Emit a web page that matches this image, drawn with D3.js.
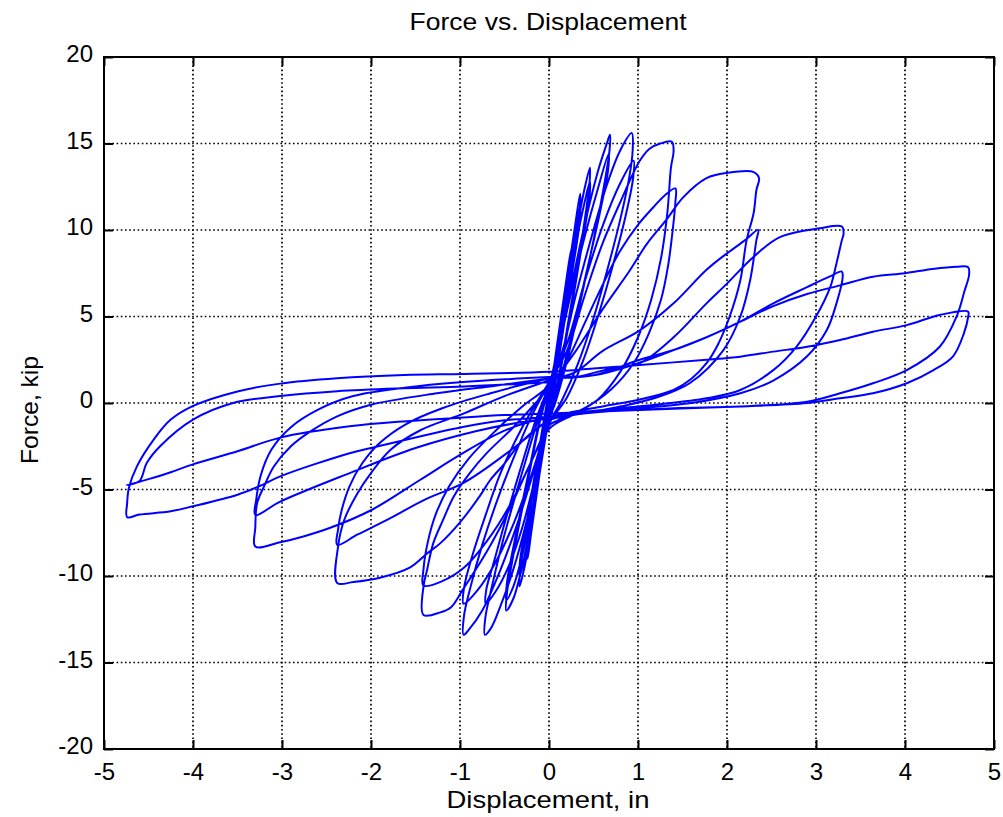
<!DOCTYPE html>
<html><head><meta charset="utf-8">
<script src="https://cdn.jsdelivr.net/npm/d3@7"></script>
<style>body{margin:0;background:#fff}svg{display:block}text{font-family:"Liberation Sans",Arial,sans-serif;fill:#000}</style>
</head><body><div id="chart"></div>
<script>
const title = "Force vs. Displacement";
const xLabel = "Displacement, in";
const yLabel = "Force, kip";
const xTicks = [-5,-4,-3,-2,-1,0,1,2,3,4,5];
const yTicks = [-20,-15,-10,-5,0,5,10,15,20];

// [displacement (in), force (kip)], cycle by cycle
const c01 = [[0,0],[0.05,1.6],[0.1,3.3],[0.095,2.7],[0.04,0.9],[0,-0.2],[-0.05,-1.7],[-0.1,-3.4],[-0.095,-2.8],[-0.04,-0.9],[0,0.2]];
const c02 = [[0.05,1.5],[0.1,3.1],[0.15,4.9],[0.145,4.1],[0.08,1.9],[0.02,0],[0,-0.3],[-0.05,-1.8],[-0.1,-3.4],[-0.15,-5.1],[-0.145,-4.3],[-0.08,-1.9],[-0.02,0],[0,0.3]];
const c03 = [[0.1,3.7],[0.2,7.3],[0.25,8.9],[0.245,8.0],[0.16,5.0],[0.06,1.3],[0,-0.4],[-0.1,-3.9],[-0.2,-7.5],[-0.24,-9.0],[-0.235,-8.0],[-0.15,-4.9],[-0.05,-1.2],[0,0.4]];
const c04 = [[0.1,3.5],[0.2,7.0],[0.3,10.5],[0.35,12.1],[0.345,11.1],[0.26,8.0],[0.13,3.4],[0.03,0],[0,-0.6],[-0.1,-3.9],[-0.2,-7.3],[-0.28,-9.6],[-0.33,-10.6],[-0.325,-9.7],[-0.23,-6.7],[-0.11,-2.9],[0,0.6]];
const c05 = [[0.1,3.2],[0.2,6.6],[0.3,9.9],[0.35,11.4],[0.345,10.5],[0.25,7.2],[0.12,2.9],[0.03,-0.2],[0,-0.7],[-0.1,-3.6],[-0.2,-6.9],[-0.28,-9.1],[-0.33,-10.0],[-0.325,-9.1],[-0.22,-6.0],[-0.1,-2.3],[0,0.7]];
const c06 = [[0.1,3.3],[0.2,6.6],[0.3,9.7],[0.4,12.4],[0.46,13.6],[0.455,12.7],[0.37,9.5],[0.23,5.1],[0.09,1.0],[0,-0.9],[-0.1,-3.9],[-0.2,-6.9],[-0.3,-9.4],[-0.4,-11.3],[-0.48,-12.0],[-0.475,-11.1],[-0.39,-8.5],[-0.23,-4.3],[-0.09,-0.8],[0,0.9]];
const c07 = [[0.1,3.0],[0.2,6.1],[0.3,9.1],[0.4,11.6],[0.46,12.8],[0.455,11.9],[0.36,8.8],[0.22,4.5],[0.08,0.6],[0,-1.0],[-0.1,-3.6],[-0.2,-6.4],[-0.3,-8.8],[-0.4,-10.6],[-0.48,-11.4],[-0.475,-10.5],[-0.38,-7.8],[-0.22,-3.8],[-0.08,-0.4],[0,1.0]];
const c08 = [[0.1,2.9],[0.25,6.7],[0.4,10.3],[0.55,13.4],[0.65,15.0],[0.685,15.5],[0.68,14.6],[0.62,12.6],[0.5,9.4],[0.35,5.8],[0.2,2.4],[0.07,0],[0,-1.0],[-0.1,-3.4],[-0.25,-6.8],[-0.4,-9.6],[-0.55,-11.8],[-0.65,-13.0],[-0.72,-13.4],[-0.715,-12.4],[-0.65,-10.8],[-0.52,-8.0],[-0.38,-5.4],[-0.22,-2.6],[-0.08,-0.2],[0,1.0]];
const c09 = [[0.1,3.0],[0.25,6.4],[0.4,9.6],[0.55,12.4],[0.67,14.4],[0.665,13.5],[0.58,11.2],[0.45,8.2],[0.3,4.9],[0.15,1.8],[0.05,0],[0,-0.9],[-0.15,-4.2],[-0.3,-7.2],[-0.45,-9.4],[-0.6,-10.9],[-0.71,-11.6],[-0.705,-10.8],[-0.62,-9.2],[-0.48,-6.6],[-0.32,-3.8],[-0.15,-1.0],[0,1.0]];
const c10 = [[0.15,3.0],[0.3,6.2],[0.5,10.0],[0.65,12.6],[0.8,14.6],[0.93,15.6],[0.94,14.6],[0.9,13.0],[0.8,10.6],[0.65,7.6],[0.5,4.9],[0.32,2.2],[0.15,0.2],[0,-1.2],[-0.15,-3.6],[-0.35,-6.9],[-0.55,-9.7],[-0.75,-12.0],[-0.9,-13.1],[-0.96,-13.4],[-0.955,-12.3],[-0.88,-10.6],[-0.75,-8.2],[-0.58,-5.6],[-0.4,-3.2],[-0.2,-0.8],[0,1.2]];
const c11 = [[0.2,3.4],[0.4,7.0],[0.6,10.2],[0.8,12.7],[0.95,14.0],[0.945,13.0],[0.86,10.8],[0.72,8.0],[0.55,5.0],[0.38,2.4],[0.2,0.3],[0,-1.2],[-0.2,-4.2],[-0.4,-7.0],[-0.6,-9.2],[-0.8,-10.8],[-0.96,-11.6],[-0.955,-10.7],[-0.86,-8.8],[-0.72,-6.6],[-0.54,-4.0],[-0.3,-1.4],[0,1.2]];
const c12 = [[0.2,3.0],[0.4,6.2],[0.6,9.2],[0.8,11.6],[1.02,14.0],[1.13,14.7],[1.25,15.0],[1.38,15.1],[1.4,14.6],[1.37,13.6],[1.33,11.0],[1.26,8.4],[1.15,6.0],[1.0,3.8],[0.8,1.8],[0.55,0.2],[0.3,-0.6],[0,-1.5],[-0.2,-3.4],[-0.45,-6.2],[-0.7,-8.6],[-0.97,-10.8],[-1.1,-11.8],[-1.22,-12.1],[-1.41,-12.25],[-1.41,-10.6],[-1.37,-9.65],[-1.3,-8.1],[-1.19,-6.76],[-1.07,-5.4],[-0.89,-4.05],[-0.7,-2.9],[-0.4,-1.4],[-0.15,0],[0,0.9]];
const c13 = [[0.2,2.4],[0.4,4.6],[0.6,6.8],[0.8,8.8],[1.0,10.3],[1.17,11.3],[1.3,12.0],[1.42,12.4],[1.42,11.6],[1.39,10.0],[1.34,8.0],[1.26,6.0],[1.12,4.0],[0.95,2.3],[0.7,0.8],[0.4,-0.3],[0.1,-1.0],[0,-1.3],[-0.2,-3.4],[-0.45,-6.0],[-0.7,-8.0],[-0.95,-9.5],[-1.2,-10.3],[-1.41,-10.55],[-1.41,-9.6],[-1.36,-8.0],[-1.27,-6.4],[-1.12,-4.8],[-0.9,-3.2],[-0.6,-1.6],[-0.3,-0.2],[0,1.0]];
const c14 = [[0.3,3.0],[0.6,5.4],[0.9,7.6],[1.1,9.2],[1.32,10.6],[1.51,11.9],[1.77,13.0],[2.0,13.3],[2.3,13.35],[2.36,13.0],[2.33,12.3],[2.3,11.0],[2.22,9.4],[2.15,7.1],[2.03,5.0],[1.9,3.4],[1.77,2.3],[1.6,1.4],[1.4,0.75],[1.02,0.2],[0.6,-0.2],[0.2,-0.6],[0,-1.0],[-0.3,-2.2],[-0.5,-3.5],[-0.66,-4.45],[-0.78,-5.4],[-1.0,-6.9],[-1.22,-8.1],[-1.37,-8.7],[-1.56,-9.5],[-1.9,-10.1],[-2.2,-10.35],[-2.38,-10.4],[-2.37,-8.3],[-2.3,-6.75],[-2.15,-5.2],[-2.0,-4.05],[-1.78,-2.7],[-1.44,-1.56],[-0.955,-0.6],[-0.5,0.4],[0,1.3]];
const c15 = [[0.3,1.8],[0.6,3.0],[1.02,4.2],[1.4,5.76],[1.77,7.7],[2.0,8.65],[2.2,9.4],[2.35,10.0],[2.33,9.4],[2.26,7.1],[2.15,5.0],[1.96,3.06],[1.58,1.14],[1.2,0.3],[0.8,-0.2],[0.4,-0.6],[0,-1.0],[-0.2,-1.8],[-0.5,-3.0],[-0.955,-4.6],[-1.4,-5.6],[-1.82,-6.76],[-2.15,-7.6],[-2.38,-8.2],[-2.37,-7.3],[-2.33,-6.2],[-2.24,-4.8],[-2.1,-3.5],[-1.9,-2.3],[-1.6,-1.2],[-1.2,-0.3],[-0.7,0.5],[0,1.4]];
const c16 = [[0.3,1.5],[0.7,2.0],[1.02,2.3],[1.4,3.8],[1.77,5.76],[2.0,6.9],[2.3,8.46],[2.6,9.6],[3.04,10.1],[3.29,10.2],[3.31,9.8],[3.29,9.4],[3.23,8.07],[3.16,6.7],[3.0,5.0],[2.78,3.25],[2.52,1.9],[2.15,0.75],[1.77,0.27],[1.2,-0.1],[0.6,-0.4],[0,-0.8],[-0.5,-1.6],[-1.0,-3.0],[-1.45,-4.45],[-2.0,-6.2],[-2.45,-7.2],[-2.75,-7.7],[-3.02,-8.05],[-3.3,-8.3],[-3.3,-7.2],[-3.28,-5.8],[-3.2,-4.8],[-3.09,-3.66],[-2.9,-2.5],[-2.68,-1.64],[-2.38,-0.77],[-2.0,-0.1],[-1.26,0.56],[-0.6,1.0],[0,1.4]];
const c17 = [[0.5,1.6],[1.02,2.5],[1.4,3.06],[1.77,3.8],[2.15,4.7],[2.52,5.76],[2.9,6.7],[3.15,7.3],[3.29,7.6],[3.3,7.3],[3.23,5.76],[3.12,4.2],[2.9,2.7],[2.52,1.3],[2.15,0.56],[1.6,0.0],[1.0,-0.3],[0.4,-0.6],[0,-0.9],[-0.3,-1.1],[-0.8,-1.6],[-1.5,-2.6],[-2.24,-4.05],[-3.02,-5.7],[-3.3,-6.47],[-3.29,-5.6],[-3.24,-4.2],[-3.12,-2.7],[-2.9,-1.4],[-2.6,-0.4],[-2.2,0.4],[-1.6,0.9],[-1.0,1.2],[0,1.5]];
const c18 = [[0.5,1.6],[1.0,2.3],[1.4,3.06],[1.77,3.8],[2.15,4.7],[2.52,5.6],[2.9,6.3],[3.27,6.8],[3.64,7.3],[4.0,7.5],[4.31,7.75],[4.58,7.88],[4.71,7.85],[4.72,7.4],[4.67,6.5],[4.58,5.0],[4.39,3.25],[4.02,1.9],[3.64,1.14],[3.27,0.56],[2.9,0.08],[2.15,-0.2],[1.4,-0.3],[0.6,-0.5],[0,-0.8],[-0.5,-1.0],[-0.955,-1.37],[-2.0,-2.6],[-2.24,-2.9],[-3.02,-4.24],[-3.25,-4.8],[-3.5,-5.3],[-4.0,-5.97],[-4.25,-6.26],[-4.6,-6.45],[-4.74,-6.6],[-4.74,-5.8],[-4.72,-4.9],[-4.63,-3.66],[-4.44,-2.1],[-4.25,-0.96],[-4.01,-0.19],[-3.5,0.67],[-3.02,1.12],[-2.38,1.43],[-1.63,1.62],[-0.955,1.68],[0,1.8]];
const c19 = [[0.5,2.0],[1.02,2.2],[1.77,2.5],[2.15,2.68],[2.52,2.97],[2.9,3.25],[3.27,3.64],[3.64,4.12],[4.02,4.5],[4.39,5.09],[4.71,5.28],[4.71,5.0],[4.66,4.0],[4.54,2.7],[4.32,1.9],[4.02,1.14],[3.64,0.56],[3.27,0.27],[2.9,0.0],[2.15,-0.2],[1.02,-0.4],[0,-0.6],[-0.5,-0.7],[-1.0,-0.85],[-1.6,-1.05],[-2.24,-1.35],[-3.02,-2.0],[-3.5,-2.79],[-4.01,-3.56],[-4.25,-4.0],[-4.5,-4.4],[-4.74,-4.75],[-4.6,-4.5],[-4.52,-3.47],[-4.37,-2.5],[-4.0,-0.96],[-3.55,0],[-3.02,0.4],[-2.38,0.68],[-1.63,0.85],[-0.955,0.95],[0,1.2]];
const cycles = [c01,c02,c03,c04,c05,c06,c07,c08,c09,c10,c11,c12,c13,c14,c15,c16,c17,c18,c19];

const W = 1003, H = 817;
const M = {left:104, right:994, top:57, bottom:749};
const svg = d3.select("#chart").append("svg").attr("width", W).attr("height", H);
const x = d3.scaleLinear().domain([-5,5]).range([M.left, M.right]);
const y = d3.scaleLinear().domain([-20,20]).range([M.bottom, M.top]);
const fmt = d => String(d);

// grid
const grid = svg.append("g").attr("stroke","#000").attr("stroke-width",1.7).attr("stroke-dasharray","1.6,2.6");
grid.selectAll("line.vx").data(xTicks.slice(1,-1)).join("line")
  .attr("x1",d=>x(d)).attr("x2",d=>x(d)).attr("y1",M.top).attr("y2",M.bottom);
grid.selectAll("line.hy").data(yTicks.slice(1,-1)).join("line")
  .attr("y1",d=>y(d)).attr("y2",d=>y(d)).attr("x1",M.left).attr("x2",M.right);

// data
svg.append("clipPath").attr("id","clip").append("rect")
  .attr("x",M.left).attr("y",M.top).attr("width",M.right-M.left).attr("height",M.bottom-M.top);
const pts = cycles.flat();
const line = d3.line().x(d=>x(d[0])).y(d=>y(d[1])).curve(d3.curveCatmullRom.alpha(0.5));
svg.append("path").datum(pts).attr("clip-path","url(#clip)")
  .attr("fill","none").attr("stroke","#0000ff").attr("stroke-width",2)
  .attr("stroke-linejoin","round").attr("d",line);

// axes (box with inward ticks)
const tl = 9;
const axB = svg.append("g").attr("transform",`translate(0,${M.bottom})`)
  .call(d3.axisBottom(x).tickValues(xTicks).tickSize(-tl).tickPadding(14).tickFormat(fmt));
const axT = svg.append("g").attr("transform",`translate(0,${M.top})`)
  .call(d3.axisTop(x).tickValues(xTicks).tickSize(-tl).tickFormat(""));
const axL = svg.append("g").attr("transform",`translate(${M.left},0)`)
  .call(d3.axisLeft(y).tickValues(yTicks).tickSize(-tl).tickPadding(11).tickFormat(fmt));
const axR = svg.append("g").attr("transform",`translate(${M.right},0)`)
  .call(d3.axisRight(y).tickValues(yTicks).tickSize(-tl).tickFormat(""));
[axB,axT,axL,axR].forEach(a=>{
  a.select(".domain").remove();
  a.selectAll(".tick line").attr("stroke","#000").attr("stroke-width",2);
  a.selectAll("text").attr("font-size",24).attr("font-family",'"Liberation Sans",Arial,sans-serif').attr("fill","#000");
});
axB.selectAll("text").attr("dy","0.71em");
axL.selectAll("text").attr("dy","0.2em");
svg.append("rect").attr("x",M.left).attr("y",M.top).attr("width",M.right-M.left).attr("height",M.bottom-M.top)
  .attr("fill","none").attr("stroke","#000").attr("stroke-width",2);

// labels
svg.append("text").attr("x",548).attr("y",30).attr("text-anchor","middle").attr("font-size",24)
  .attr("textLength",277).attr("lengthAdjust","spacingAndGlyphs").text(title);
svg.append("text").attr("x",548).attr("y",808).attr("text-anchor","middle").attr("font-size",24)
  .attr("textLength",203).attr("lengthAdjust","spacingAndGlyphs").text(xLabel);
svg.append("text").attr("transform","translate(38,410) rotate(-90)").attr("text-anchor","middle").attr("font-size",24)
  .attr("textLength",108).attr("lengthAdjust","spacingAndGlyphs").text(yLabel);
</script></body></html>
